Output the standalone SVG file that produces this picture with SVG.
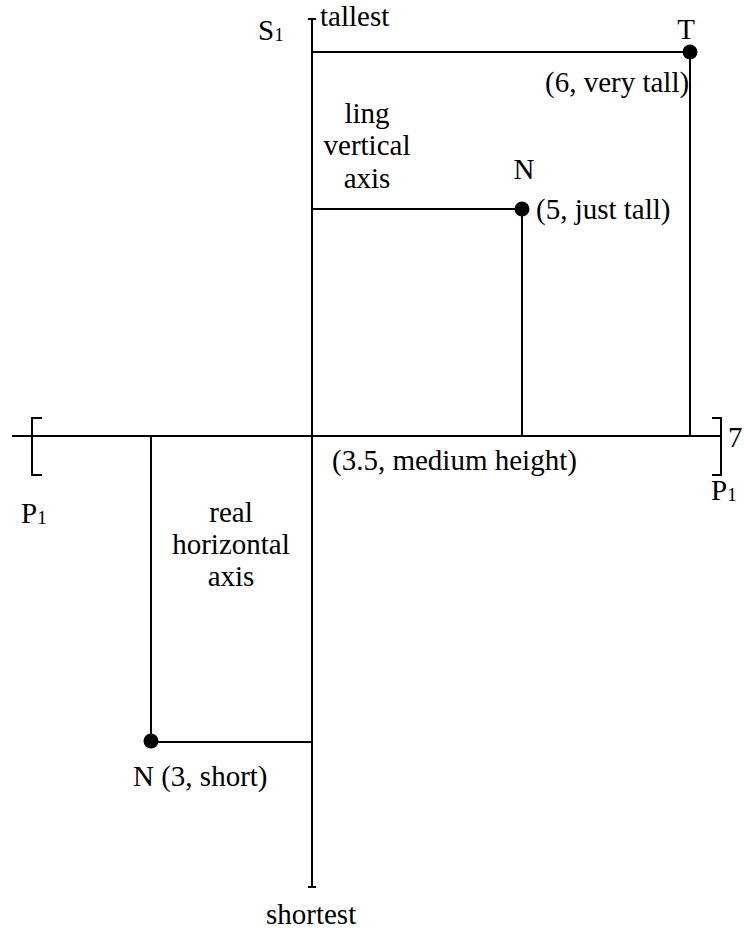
<svg xmlns="http://www.w3.org/2000/svg" width="744" height="933" viewBox="0 0 744 933">
<defs>
<style>
line, polyline { stroke: #000; stroke-width: 2; fill: none; }
.dot { fill: #000; }
</style>
</defs>
<rect width="744" height="933" fill="#fff"/>
<g id="connectors">
<line x1="312" y1="19" x2="312" y2="887"/>
<line x1="308" y1="19" x2="316" y2="19"/>
<line x1="308" y1="887" x2="316" y2="887"/>
<line x1="12" y1="436" x2="721" y2="436"/>
<polyline points="42,418 32,418 32,475 42,475"/>
<polyline points="712,418 721,418 721,475 712,475"/>
<line x1="312" y1="52" x2="690" y2="52"/>
<line x1="690" y1="52" x2="690" y2="436"/>
<line x1="312" y1="209" x2="522" y2="209"/>
<line x1="522" y1="209" x2="522" y2="436"/>
<line x1="151" y1="436" x2="151" y2="741"/>
<line x1="151" y1="742" x2="312" y2="742"/>
</g>
<g id="axis-labels" font-family="Liberation Serif, Times New Roman, serif" font-size="29" fill="#000">
<text x="258" y="40">S<tspan font-size="19" dy="1">1</tspan></text>
<text x="320" y="26">tallest</text>
<text x="266" y="924">shortest</text>
<text x="367" y="123" text-anchor="middle">ling</text>
<text x="367" y="155" text-anchor="middle">vertical</text>
<text x="367" y="188" text-anchor="middle">axis</text>
<text x="231" y="522" text-anchor="middle">real</text>
<text x="231" y="554" text-anchor="middle">horizontal</text>
<text x="231" y="586" text-anchor="middle">axis</text>
<text x="21" y="523">P<tspan font-size="19" dy="1">1</tspan></text>
<text x="711" y="500">P<tspan font-size="19" dy="1">1</tspan></text>
<text x="728" y="447">7</text>
<text x="332" y="470">(3.5, medium height)</text>
</g>
<g id="node-T" font-family="Liberation Serif, Times New Roman, serif" font-size="29">
<circle class="dot" cx="690" cy="52" r="7.5"/>
<text x="686" y="39" text-anchor="middle">T</text>
<text x="545" y="92">(6, very tall)</text>
</g>
<g id="node-N-tall" font-family="Liberation Serif, Times New Roman, serif" font-size="29">
<circle class="dot" cx="522" cy="209" r="7.5"/>
<text x="524" y="179" text-anchor="middle">N</text>
<text x="536" y="219">(5, just tall)</text>
</g>
<g id="node-N-short" font-family="Liberation Serif, Times New Roman, serif" font-size="29">
<circle class="dot" cx="151" cy="741" r="7.5"/>
<text x="133" y="786">N (3, short)</text>
</g>
</svg>
